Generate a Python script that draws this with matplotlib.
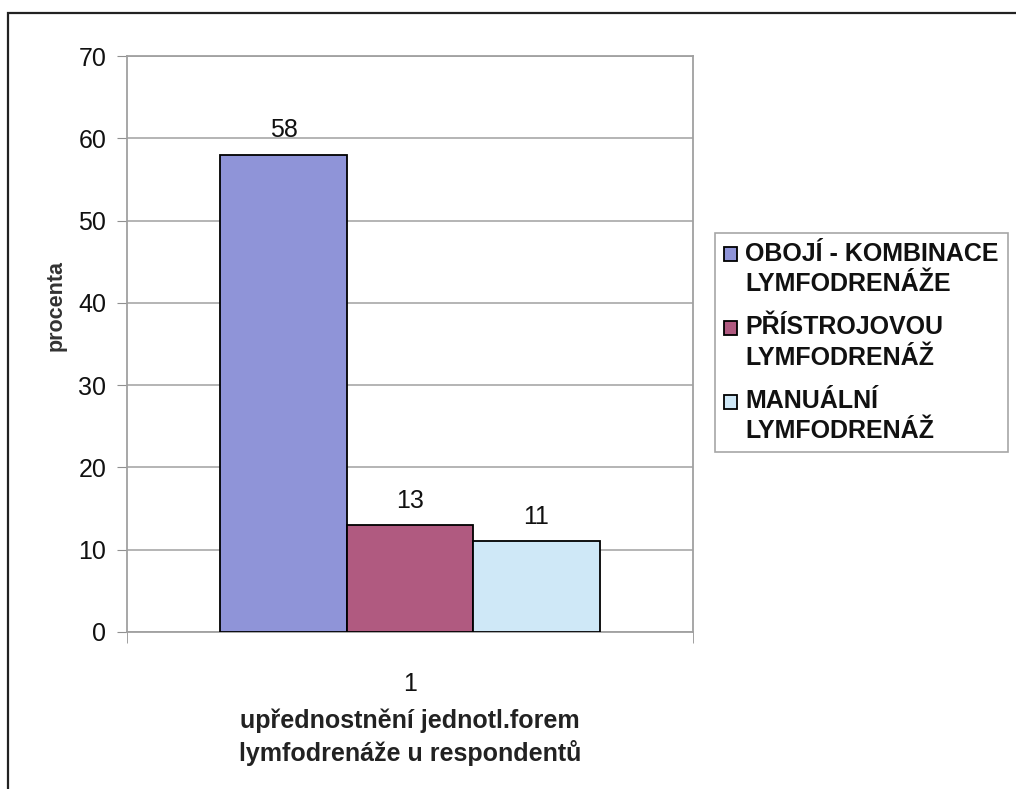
import matplotlib.pyplot as plt
from matplotlib.patches import Rectangle
from matplotlib.legend_handler import HandlerPatch

plt.rcParams['font.family'] = ['Liberation Sans', 'DejaVu Sans']

# upřednostnění forem lymfodrenáže (%)
series = ['OBOJÍ - KOMBINACE\nLYMFODRENÁŽE', 'PŘÍSTROJOVOU\nLYMFODRENÁŽ', 'MANUÁLNÍ\nLYMFODRENÁŽ']
values = [58, 13, 11]
colors = ['#8f94d8', '#b05a80', '#cfe8f7']
category = ['1']

fig = plt.figure(figsize=(10.16, 7.89), dpi=100)
ax = fig.add_axes([0.125, 0.199, 0.557, 0.730])

w = 0.2235
bars = []
for i, (lab, v, c) in enumerate(zip(series, values, colors)):
    x = (i - 1) * w
    b = ax.bar(x, v, width=w, color=c, edgecolor='black', linewidth=1.3, label=lab, zorder=3)
    bars.append(b[0])
    ax.annotate(str(v), (x, v), xytext=(0, 9), textcoords='offset points',
                ha='center', va='bottom', fontsize=18, color='#111111')

ax.set_xlim(-0.5, 0.5)
ax.set_ylim(0, 70)
ax.set_yticks(range(0, 71, 10))
ax.yaxis.grid(True, color='#a8a8a8', linewidth=1.2, zorder=0)
ax.tick_params(axis='y', direction='out', length=7, color='#909090', labelsize=18,
               labelcolor='#111111', pad=8)

ax.set_xticks([0])
ax.set_xticklabels(category)
ax.set_xticks([-0.5, 0.5], minor=True)
ax.tick_params(axis='x', which='major', length=0, labelsize=18, labelcolor='#111111', pad=29)
ax.tick_params(axis='x', which='minor', direction='out', length=8, color='#909090')

for s in ax.spines.values():
    s.set_color('#a0a0a0')
    s.set_linewidth(1.3)

ax.set_ylabel('procenta', fontsize=15.5, fontweight='bold', color='#333333')
ax.yaxis.set_label_coords(-0.106, 0.566)
ax.set_xlabel('upřednostnění jednotl.forem\nlymfodrenáže u respondentů', fontsize=18,
              fontweight='bold', color='#222222', labelpad=9, linespacing=1.3)


# legend square sits level with the first line of each label
def top_square(legend, orig_handle, xdescent, ydescent, width, height, fontsize):
    return Rectangle((-xdescent, -ydescent + 0.6 * fontsize), width, height)


leg = fig.legend(bars, series, loc='upper left', bbox_to_anchor=(0.704, 0.705),
                 prop={'weight': 'bold', 'size': 18}, handlelength=0.5, handleheight=0.5,
                 handletextpad=0.35, labelspacing=0.78, borderpad=0.35, frameon=True,
                 fancybox=False, borderaxespad=0,
                 handler_map={Rectangle: HandlerPatch(patch_func=top_square)})
leg.get_frame().set_edgecolor('#909090')
leg.get_frame().set_linewidth(1.2)
for t in leg.get_texts():
    t.set_color('#111111')
    t.set_linespacing(1.33)

# chart frame
fig.patches.append(Rectangle((8 / 1016, -0.2), 2, 1.2 - 13 / 789, transform=fig.transFigure,
                             fill=False, edgecolor='#222222', linewidth=1.6))

fig.savefig('out.png', dpi=100)
